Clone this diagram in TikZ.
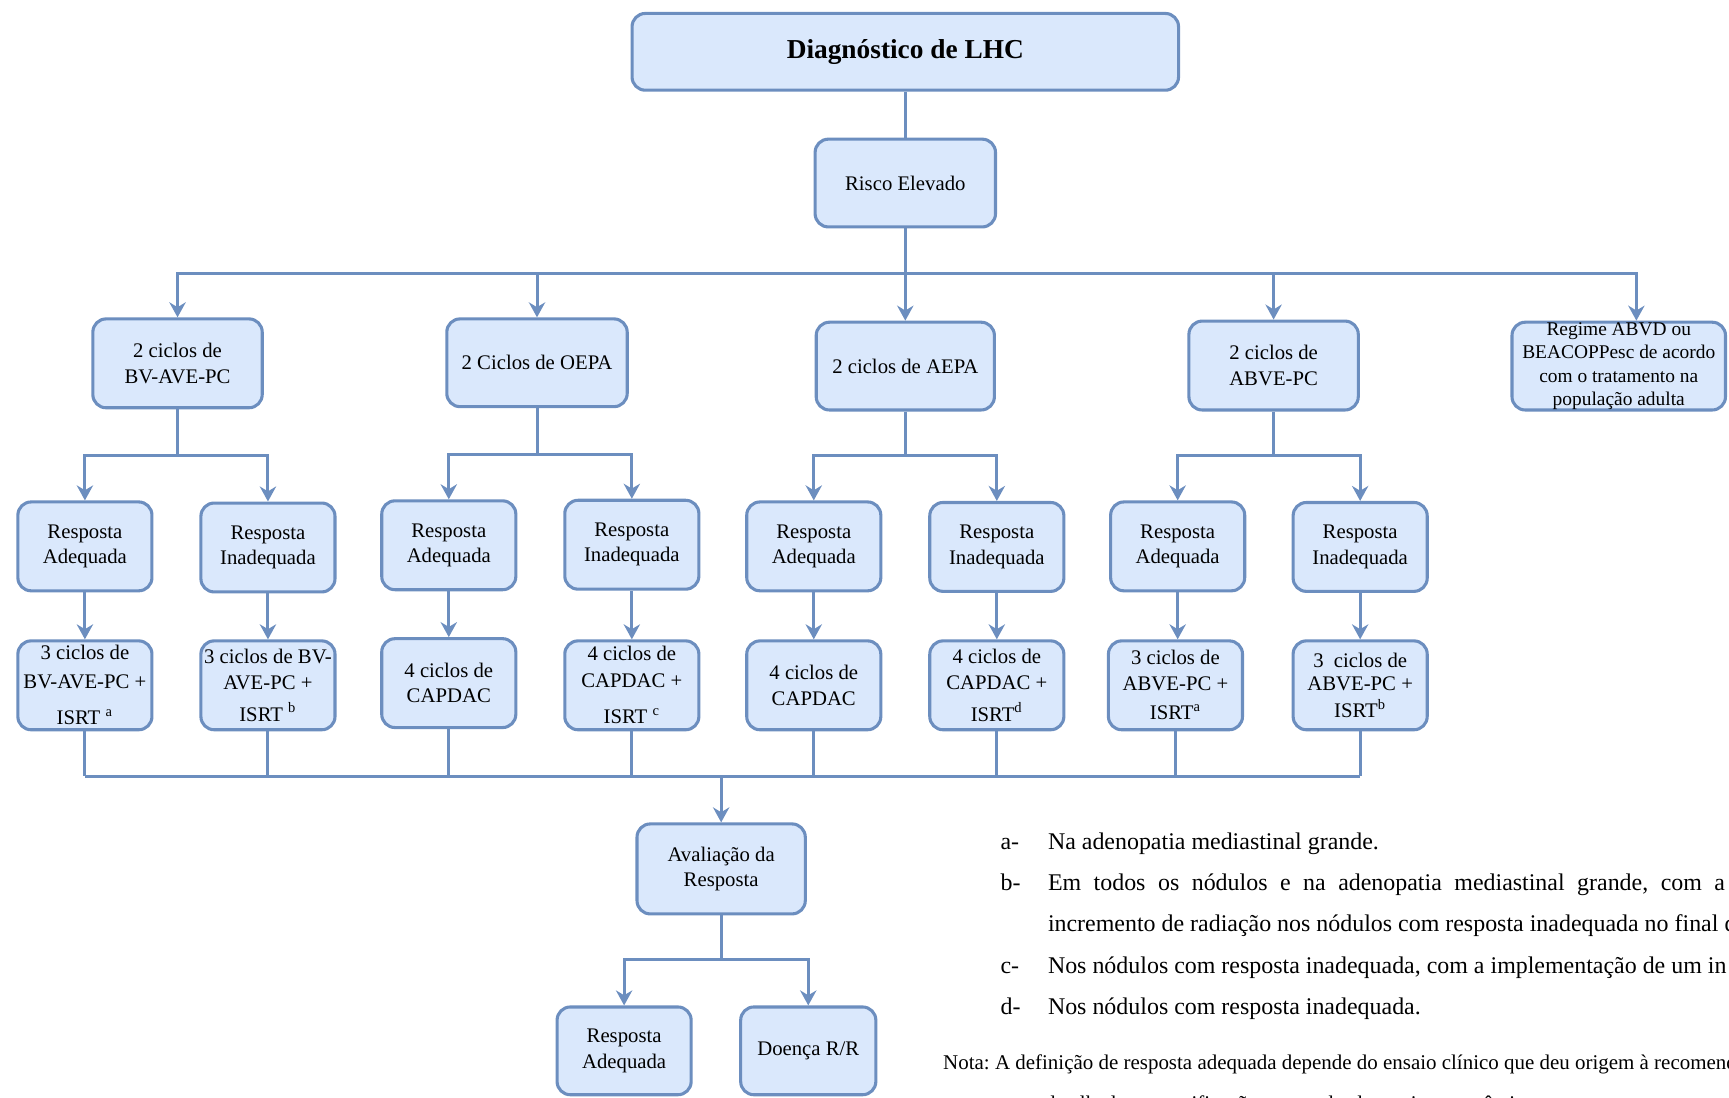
\documentclass[tikz,border=0pt]{standalone}
\usepackage{fontspec}
\setmainfont{Liberation Serif}
\usetikzlibrary{arrows.meta,calc}
\frenchspacing

\definecolor{boxfill}{HTML}{DAE8FC}
\definecolor{boxline}{HTML}{6C8EBF}

\tikzset{
  box/.style 2 args={draw=boxline, fill=boxfill, line width=1.4pt,
    rounded corners=6pt, inner sep=0pt, align=center,
    minimum width=#1, minimum height=#2,
    font=\fontsize{9.4}{11.5}\selectfont},
  link/.style={draw=boxline, line width=1.35pt},
  arr/.style={link, -{Stealth[length=6.8pt, width=7.4pt, inset=2.2pt]}},
  note/.style={anchor=base west, inner sep=0pt, font=\fontsize{10.85}{13}\selectfont},
}

\begin{document}
\begin{tikzpicture}[x=0.5pt, y=-0.5pt]
\useasboundingbox (0,0) rectangle (1568,995);
\clip (0,0) rectangle (1568,995);

% top of the tree
\node[box={247.8pt}{34.8pt}, font=\fontsize{12.4}{14}\selectfont\bfseries] (diag) at (821,47) {Diagnóstico de LHC};
\node[box={81.8pt}{39.8pt}] (risk) at (821,166) {Risco Elevado};

% first-line regimens
\node[box={76.8pt}{40.3pt}] (bv)   at (161,329.5) {2 ciclos de\\BV-AVE-PC};
\node[box={81.8pt}{39.8pt}] (oepa) at (487,329)   {2 Ciclos de OEPA};
\node[box={80.8pt}{39.8pt}] (aepa) at (821,332)   {2 ciclos de AEPA};
\node[box={76.8pt}{40.3pt}] (abve) at (1155,331.5) {2 ciclos de\\ABVE-PC};
\node[box={96.8pt}{39.8pt}, font=\fontsize{8.8}{10.5}\selectfont] (reg) at (1468,332)
  {Regime ABVD ou\\BEACOPPesc de acordo\\com o tratamento na\\população adulta};

% response after the first cycles
\node[box={60.8pt}{40.3pt}] (r1) at (77,495.5)   {Resposta\\Adequada};
\node[box={60.8pt}{40.3pt}] (r2) at (243,496.5)  {Resposta\\Inadequada};
\node[box={60.8pt}{40.3pt}] (r3) at (407,494.5)  {Resposta\\Adequada};
\node[box={60.8pt}{40.3pt}] (r4) at (573,494)    {Resposta\\Inadequada};
\node[box={60.8pt}{40.3pt}] (r5) at (738,495.5)  {Resposta\\Adequada};
\node[box={60.8pt}{40.3pt}] (r6) at (904,496)    {Resposta\\Inadequada};
\node[box={60.8pt}{40.3pt}] (r7) at (1068,495.5) {Resposta\\Adequada};
\node[box={60.8pt}{40.3pt}] (r8) at (1233.5,496) {Resposta\\Inadequada};

% consolidation
\node[box={60.8pt}{40.3pt}] (t1) at (77,621.5)   {3 ciclos de\\[1.5pt]BV-AVE-PC +\\[5pt]ISRT \textsuperscript{a}};
\node[box={60.8pt}{40.3pt}] (t2) at (243,621.5)  {3 ciclos de BV-\\AVE-PC +\\[3pt]ISRT \textsuperscript{b}};
\node[box={60.8pt}{40.3pt}] (t3) at (407,619.5)  {4 ciclos de\\CAPDAC};
\node[box={60.8pt}{40.3pt}] (t4) at (573,621.5)  {4 ciclos de\\[0.5pt]CAPDAC +\\[5pt]ISRT \textsuperscript{c}};
\node[box={60.8pt}{40.3pt}] (t5) at (738,621.5)  {4 ciclos de\\CAPDAC};
\node[box={60.8pt}{40.3pt}] (t6) at (904,621.5)  {4 ciclos de\\CAPDAC +\\[3pt]ISRT\textsuperscript{d}};
\node[box={60.8pt}{40.3pt}] (t7) at (1066,621.5) {3 ciclos de\\ABVE-PC +\\[2pt]ISRT\textsuperscript{a}};
\node[box={60.8pt}{40.3pt}] (t8) at (1233.5,621.5) {3\ \ ciclos de\\[-1pt]ABVE-PC +\\[1pt]ISRT\textsuperscript{b}};

% evaluation
\node[box={76.3pt}{40.8pt}] (aval) at (654,788) {Avaliação da\\Resposta};
\node[box={60.8pt}{39.8pt}] (fin1) at (566,953)  {Resposta\\Adequada};
\node[box={61.3pt}{39.8pt}] (fin2) at (733,953)  {Doença R/R};

% connectors: diagnosis and risk
\draw[link] (diag.south) -- (risk.north);
\coordinate (bus1) at (821,248);
\draw[link] (risk.south) -- (bus1);
\draw[arr] (bus1) -| (bv.north);
\draw[arr] (bus1) -| (oepa.north);
\draw[arr] (bus1) -- (aepa.north);
\draw[arr] (bus1) -| (abve.north);
\draw[arr] (bus1) -| ($(reg.north)+(16,0)$);

% connectors: regimen to response
\draw[arr] (bv.south)   -- ++(0,42) -| (r1.north);
\draw[arr] (bv.south)   -- ++(0,42) -| (r2.north);
\draw[arr] (oepa.south) -- ++(0,42) -| (r3.north);
\draw[arr] (oepa.south) -- ++(0,42) -| (r4.north);
\draw[arr] (aepa.south) -- ++(0,40) -| (r5.north);
\draw[arr] (aepa.south) -- ++(0,40) -| (r6.north);
\draw[arr] (abve.south) -- ++(0,40) -| (r7.north);
\draw[arr] (abve.south) -- ++(0,40) -| (r8.north);

% connectors: response to consolidation
\foreach \i in {1,...,8}{
  \draw[arr] (r\i.south) -- (r\i.south |- t\i.north);
}

% connectors: consolidation to evaluation
\coordinate (bus2) at (654,704);
\foreach \i in {1,...,8}{
  \draw[link] (t\i.south) -- (t\i.south |- bus2);
}
\draw[link] (t1.south |- bus2) -- (t8.south |- bus2);
\draw[arr] (bus2) -- (aval.north);
\draw[arr] (aval.south) -- ++(0,40) -| (fin1.north);
\draw[arr] (aval.south) -- ++(0,40) -| (fin2.north);

% footnotes
\node[note] (la) at (907,770) {a-};
\node[note] (ta) at (950,770) {Na adenopatia mediastinal grande.};
\node[note] (lb) at (907,807.5) {b-};
\node[note] (tb) at (950,807.5) {\makebox[307pt][s]{Em todos os nódulos e na adenopatia mediastinal grande, com a}};
\node[note] (tb2) at (950,845) {incremento de radiação nos nódulos com resposta inadequada no final do};
\node[note] (lc) at (907,882.5) {c-};
\node[note] (tc) at (950,882.5) {Nos nódulos com resposta inadequada, com a implementação de um in};
\node[note] (ld) at (907,920) {d-};
\node[note] (td) at (950,920) {Nos nódulos com resposta inadequada.};
\node[note, font=\fontsize{9.5}{11}\selectfont] (nota) at (855,970)
  {Nota: A definição de resposta adequada depende do ensaio clínico que deu origem à recomend};
\node[note, font=\fontsize{9.5}{11}\selectfont] (nota2) at (855,1007)
  {encontra-se detalhada a especificação para cada alternativa terapêutica.};
\end{tikzpicture}
\end{document}
